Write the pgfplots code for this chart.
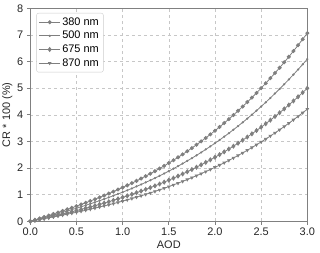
\documentclass[border=0pt]{standalone}
\usepackage{pgfplots}
\pgfplotsset{compat=1.18}
\usepackage{pgfplotstable}
\usepackage{fontspec}
\setmainfont{Liberation Sans}
\definecolor{cg}{HTML}{7F7F7F}
\definecolor{sp}{HTML}{808080}
\pgfplotstableread{
x a b c d
0.00 0.0000 0.0000 0.0000 0.0000
0.05 0.0534 0.0460 0.0378 0.0318
0.10 0.1074 0.0926 0.0759 0.0640
0.15 0.1620 0.1396 0.1145 0.0966
0.20 0.2173 0.1873 0.1536 0.1295
0.25 0.2734 0.2357 0.1933 0.1629
0.30 0.3305 0.2849 0.2337 0.1970
0.35 0.3885 0.3349 0.2747 0.2315
0.40 0.4476 0.3858 0.3165 0.2668
0.45 0.5078 0.4377 0.3590 0.3026
0.50 0.5693 0.4907 0.4025 0.3393
0.55 0.6320 0.5448 0.4468 0.3767
0.60 0.6962 0.6001 0.4922 0.4149
0.65 0.7619 0.6568 0.5387 0.4541
0.70 0.8291 0.7147 0.5862 0.4941
0.75 0.8979 0.7740 0.6348 0.5351
0.80 0.9685 0.8348 0.6847 0.5772
0.85 1.0410 0.8973 0.7360 0.6204
0.90 1.1153 0.9614 0.7885 0.6647
0.95 1.1916 1.0272 0.8425 0.7102
1.00 1.2700 1.0947 0.8979 0.7569
1.05 1.3505 1.1641 0.9548 0.8049
1.10 1.4333 1.2355 1.0133 0.8542
1.15 1.5184 1.3089 1.0735 0.9050
1.20 1.6059 1.3843 1.1354 0.9571
1.25 1.6959 1.4619 1.1990 1.0108
1.30 1.7885 1.5417 1.2645 1.0659
1.35 1.8838 1.6238 1.3318 1.1227
1.40 1.9817 1.7082 1.4011 1.1811
1.45 2.0825 1.7951 1.4723 1.2412
1.50 2.1863 1.8846 1.5457 1.3030
1.55 2.2930 1.9766 1.6212 1.3666
1.60 2.4028 2.0712 1.6988 1.4321
1.65 2.5157 2.1685 1.7786 1.4994
1.70 2.6319 2.2687 1.8608 1.5686
1.75 2.7514 2.3717 1.9452 1.6398
1.80 2.8744 2.4777 2.0322 1.7131
1.85 3.0008 2.5867 2.1216 1.7885
1.90 3.1309 2.6988 2.2135 1.8660
1.95 3.2646 2.8141 2.3081 1.9457
2.00 3.4020 2.9325 2.4052 2.0276
2.05 3.5433 3.0543 2.5051 2.1118
2.10 3.6885 3.1795 2.6078 2.1983
2.15 3.8377 3.3081 2.7133 2.2873
2.20 3.9910 3.4402 2.8216 2.3786
2.25 4.1484 3.5759 2.9329 2.4724
2.30 4.3102 3.7154 3.0473 2.5689
2.35 4.4762 3.8585 3.1647 2.6678
2.40 4.6467 4.0055 3.2852 2.7694
2.45 4.8217 4.1563 3.4089 2.8737
2.50 5.0013 4.3111 3.5359 2.9808
2.55 5.1855 4.4699 3.6661 3.0906
2.60 5.3745 4.6328 3.7998 3.2032
2.65 5.5684 4.7999 3.9369 3.3188
2.70 5.7672 4.9713 4.0774 3.4373
2.75 5.9709 5.1469 4.2214 3.5587
2.80 6.1798 5.3270 4.3691 3.6832
2.85 6.3939 5.5115 4.5205 3.8108
2.90 6.6132 5.7006 4.6755 3.9415
2.95 6.8379 5.8943 4.8344 4.0754
3.00 7.0680 6.0926 4.9971 4.2125
}\data
\begin{document}
\begin{tikzpicture}
\begin{axis}[
  name=ax,
  scale only axis,
  width=277bp, height=213bp,
  xmin=0, xmax=3, ymin=0, ymax=8,
  xtick={0,0.5,...,3}, ytick={0,1,...,8},
  xticklabel style={/pgf/number format/.cd,fixed,fixed zerofill,precision=1},
  /pgf/number format/assume math mode=true,
  tick label style={font=\fontsize{11}{13}\selectfont, text=black!85},
  label style={font=\fontsize{11}{13}\selectfont, text=black!85},
  xlabel={AOD}, ylabel={CR * 100 (\%)},
  xlabel style={yshift=2pt},
  ylabel style={yshift=-2pt},
  axis line style={sp, line width=1.3pt},
  tick style={sp, line width=0.8pt},
  tick align=outside, tick pos=left,
  major tick length=3.5pt,
  grid=major,
  major grid style={dashed, black!22, line width=0.5pt},
  legend style={at={(rel axis cs:0.022,0.978)}, anchor=north west,
    draw=black!20, rounded corners=2pt, font=\fontsize{11}{13}\selectfont,
    inner sep=2.5pt, row sep=0.5pt, fill=white},
  legend cell align=left,
  legend image code/.code={\draw[mark repeat=2,mark phase=2,#1] plot coordinates {(0cm,0cm) (0.36cm,0cm) (0.72cm,0cm)};},
]
\addplot[cg, line width=0.8pt, mark=*, mark size=1.6pt, mark options={fill=cg}] table[x=x,y=a]{\data};
\addlegendentry{380 nm}
\addplot[cg, line width=0.8pt, mark=*, mark size=0.7pt] table[x=x,y=b]{\data};
\addlegendentry{500 nm}
\addplot[cg, line width=0.8pt, mark=diamond*, mark size=2pt, mark options={fill=cg}] table[x=x,y=c]{\data};
\addlegendentry{675 nm}
\addplot[cg, line width=0.8pt, mark=triangle*, mark size=1.4pt, mark options={fill=cg, rotate=180}] table[x=x,y=d]{\data};
\addlegendentry{870 nm}
\end{axis}
\pgfresetboundingbox
\useasboundingbox ([shift={(-30.3bp,-31.3bp)}]ax.south west) rectangle ([shift={(12.7bp,8.3bp)}]ax.north east);
\end{tikzpicture}
\end{document}
